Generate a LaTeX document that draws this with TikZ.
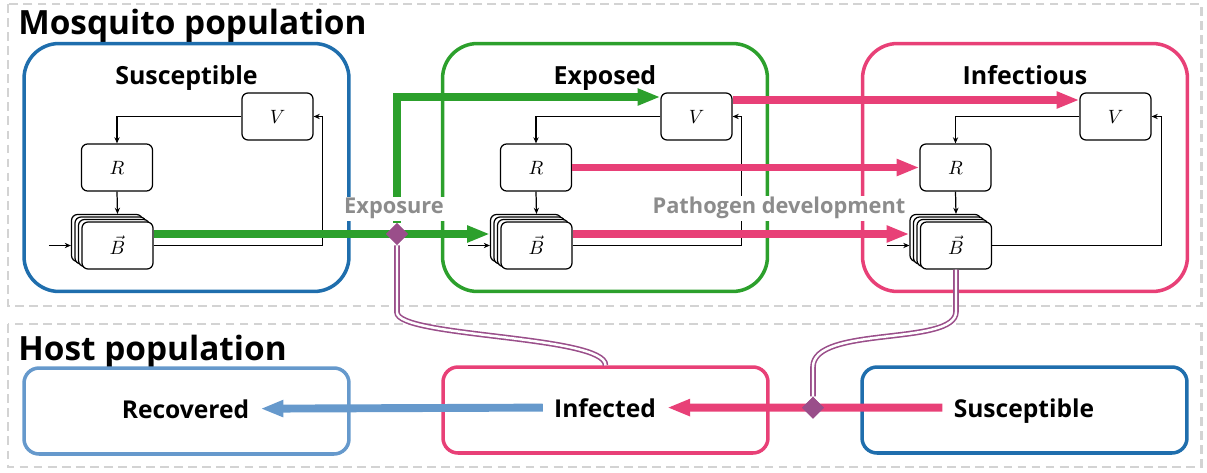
\documentclass[tikz,border=0pt]{standalone}
\usepackage{fontspec}
\setmainfont{Open Sans}
\usepackage{amsmath}
\usetikzlibrary{arrows.meta, positioning, shapes.geometric, shadows}
\definecolor{susblue}{HTML}{1F6EAD}
\definecolor{expgreen}{HTML}{2CA02C}
\definecolor{infpink}{HTML}{E84077}
\definecolor{recblue}{HTML}{6699CC}
\definecolor{bitepurple}{HTML}{9A4E8A}
\definecolor{popgray}{HTML}{D3D3D3}
\definecolor{labgray}{HTML}{8C8C8C}

\begin{document}
\begin{tikzpicture}[x=0.02cm, y=-0.02cm,
			pop/.style={draw=popgray, line width=1.7pt, dash pattern=on 5pt off 3pt},
			poptitle/.style={font=\fontsize{19}{22}\selectfont\bfseries, anchor=base west, inner sep=0pt},
			comp/.style={rounded corners=0.7cm, line width=2pt, minimum width=6.5cm, minimum height=4.96cm},
			comptitle/.style={font=\fontsize{14.2}{16}\selectfont\bfseries, anchor=base},
			var/.style={draw, rounded corners=0.12cm, line width=0.7pt, fill=white,
				minimum width=1.42cm, minimum height=0.94cm, font=\fontsize{10.5}{12}\selectfont},
			bstack/.style={var,
				copy shadow={shadow xshift=-0.21cm, shadow yshift=0.15cm},
				copy shadow={shadow xshift=-0.14cm, shadow yshift=0.10cm},
				copy shadow={shadow xshift=-0.07cm, shadow yshift=0.05cm}},
			fb/.style={line width=0.7pt, -{Stealth[length=3.5pt, width=3pt]}},
			flow/.style={line width=4.5pt, -{Triangle[length=13pt, width=9pt]}},
			hostbox/.style={rounded corners=0.3cm, line width=2pt, minimum width=6.5cm, minimum height=1.72cm},
			hosttxt/.style={font=\fontsize{14}{16}\selectfont\bfseries, anchor=base, inner sep=0.22cm, text depth=0pt},
			event/.style={diamond, fill=bitepurple, inner sep=0pt, minimum width=0.44cm, minimum height=0.44cm},
			bite/.style={draw=bitepurple, line width=0.9pt, double=white, double distance=1.4pt},
			steplabel/.style={font=\fontsize{12.4}{14}\selectfont\bfseries, text=labgray, fill=white, inner sep=1pt, anchor=base}]
			
			% Riquadri delle popolazioni
			\draw[pop] (8,4) rectangle (1201,306);
			\draw[pop] (8,324) rectangle (1201,467);
			\node[poptitle] (tmos) at (18,35) {Mosquito population};
			\node[poptitle] (thost) at (18,360) {Host population};
			
			% Compartimenti delle zanzare
			\node[comp, draw=susblue] (mS) at (186.5,167.5) {};
			\node[comp, draw=expgreen] (mE) at (605,167.5) {};
			\node[comp, draw=infpink] (mI) at (1025,167.5) {};
			\node[comptitle] at (186.5,85) {Susceptible};
			\node[comptitle] at (605,85) {Exposed};
			\node[comptitle] at (1025,85) {Infectious};
			
			% Susceptible
			\node[var] (sV) at (277.5,116.5) {$V$};
			\node[var] (sR) at (117,167.5) {$R$};
			\node[bstack] (sB) at (117.5,245.5) {$\vec{B}$};
			\draw[fb] (sV.west) -| (sR.north);
			\draw[fb] (sR.south) -- ([yshift=0.15cm]sB.north);
			\draw[fb] (sB.east) -- ++(169,0) |- (sV.east);
			\draw[fb] ([xshift=-0.65cm]sB.west) -- ([xshift=-0.21cm]sB.west);
			
			% Exposed
			\node[var] (eV) at (696.5,116.5) {$V$};
			\node[var] (eR) at (536,167.5) {$R$};
			\node[bstack] (eB) at (536.5,245.5) {$\vec{B}$};
			\draw[fb] (eV.west) -| (eR.north);
			\draw[fb] (eR.south) -- ([yshift=0.15cm]eB.north);
			\draw[fb] (eB.east) -- ++(169,0) |- (eV.east);
			\draw[fb] ([xshift=-0.65cm]eB.west) -- ([xshift=-0.21cm]eB.west);
			
			% Infectious
			\node[var] (iV) at (1115.5,116.5) {$V$};
			\node[var] (iR) at (955.5,167.5) {$R$};
			\node[bstack] (iB) at (956,245.5) {$\vec{B}$};
			\draw[fb] (iV.west) -| (iR.north);
			\draw[fb] (iR.south) -- ([yshift=0.15cm]iB.north);
			\draw[fb] (iB.east) -- ++(169,0) |- (iV.east);
			\draw[fb] ([xshift=-0.65cm]iB.west) -- ([xshift=-0.21cm]iB.west);
			
			% Compartimenti degli ospiti
			\node[hostbox, draw=recblue] (hR) at (186.5,411) {};
			\node[hostbox, draw=infpink] (hI) at (605.5,410) {};
			\node[hostbox, draw=susblue] (hS) at (1024.5,410) {};
			\node[hosttxt] (hRt) at (185.5,418) {Recovered};
			\node[hosttxt] (hIt) at (605,417) {Infected};
			\node[hosttxt] (hSt) at (1024,417) {Susceptible};
			
			% --- Esposizione ---
			\draw[flow, expgreen] ([yshift=0.23cm]sB.east) -- ([yshift=0.23cm, xshift=-0.21cm]eB.west);
			\node[event] (expo) at (397,234) {};
			\draw[flow, expgreen] (expo.north) |- ([yshift=0.39cm]eV.west);
			
			% --- Sviluppo del patogeno ---
			\draw[flow, infpink] ([yshift=0.33cm]eV.east) -- ([yshift=0.33cm]iV.west);
			\draw[flow, infpink] (eR.east) -- (iR.west);
			\draw[flow, infpink] ([yshift=0.23cm]eB.east) -- ([yshift=0.23cm, xshift=-0.21cm]iB.west);
			
			% --- Ospiti ---
			\draw[flow, recblue] (hIt.west) -- (hRt.east);
			\draw[flow, infpink] (hSt.west) -- (hIt.east);
			\node[event] (inf) at (hSt.west -| 813,0) {};
			
			% Punture
			\draw[bite] (expo.south) -- ++(0,67) .. controls +(0,25) and +(0,-30) .. (hI.north);
			\draw[bite] (iB.south) -- ++(0,42) .. controls +(0,35) and +(0,-42) .. (inf.north |- 0,367) -- (inf.north);
			\node[event] at (expo) {};
			\node[event] at (inf) {};
			
			% Etichette
			\node[steplabel] (lexpo) at (394,214) {Exposure};
			\node[steplabel] (ldev) at (779,214) {Pathogen development};
			
			\useasboundingbox (0,0) rectangle (1207,473);
		\end{tikzpicture}
\end{document}
